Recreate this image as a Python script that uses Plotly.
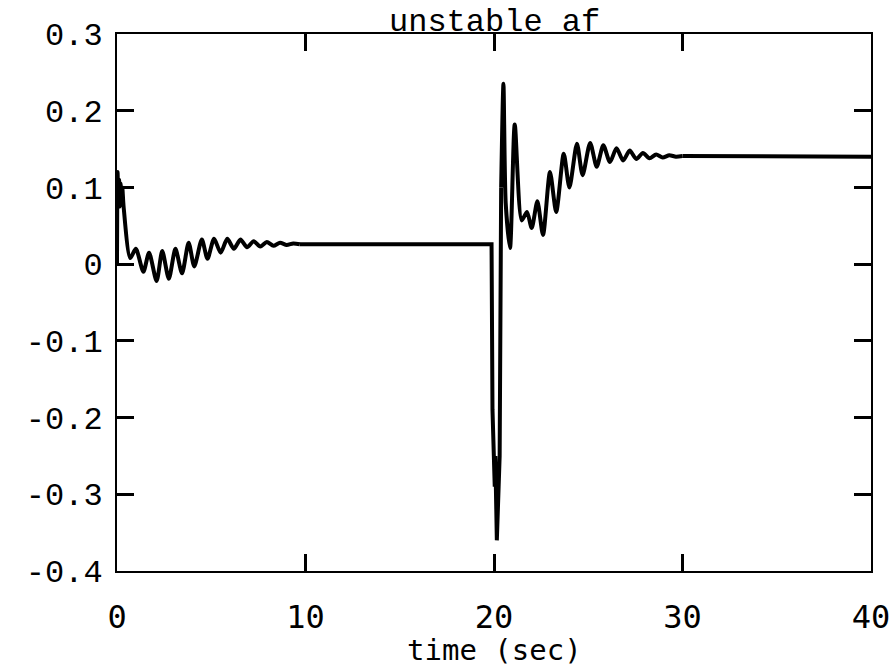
import plotly.graph_objects as go

# time (sec) and response values
t_vals = [0, 0.03, 0.07, 0.11, 0.15, 0.19, 0.23, 0.28, 0.35, 0.7, 1.0, 1.4, 1.7, 2.1, 2.4,
          2.75, 3.1, 3.45, 3.8, 4.1, 4.5, 4.8, 5.15, 5.5, 5.85, 6.2, 6.55, 6.9, 7.25, 7.6,
          7.95, 8.3, 8.65, 9.0, 9.35, 9.7, 19.87,
          19.92, 20.0, 20.04, 20.07, 20.1, 20.15, 20.3, 20.38, 20.5, 20.62, 20.85, 21.1,
          21.47, 21.75, 22.0, 22.3, 22.6, 22.97, 23.3, 23.7, 24.0, 24.4, 24.7, 25.1, 25.45,
          25.8, 26.15, 26.5, 26.85, 27.2, 27.55, 27.9, 28.25, 28.6, 28.95, 29.3, 29.65,
          30.0, 40.0]
y_vals = [0.0, 0.12, 0.08, 0.11, 0.075, 0.105, 0.085, 0.1, 0.075, 0.008, 0.02, -0.01, 0.015,
          -0.022, 0.017, -0.019, 0.02, -0.012, 0.028, -0.003, 0.032, 0.007, 0.033, 0.015,
          0.033, 0.02, 0.032, 0.022, 0.03, 0.023, 0.029, 0.024, 0.028, 0.025, 0.027, 0.026,
          0.026,
          -0.19, -0.25, -0.29, -0.25, -0.29, -0.36, -0.25, 0.1, 0.235, 0.08, 0.021, 0.182,
          0.057, 0.068, 0.047, 0.082, 0.038, 0.12, 0.068, 0.144, 0.1, 0.157, 0.116, 0.158,
          0.127, 0.155, 0.133, 0.151, 0.135, 0.148, 0.137, 0.145, 0.138, 0.143, 0.139,
          0.142, 0.14, 0.141, 0.14]

x_ticks = [0, 10, 20, 30, 40]
x_ticktext = ["0", "10", "20", "30", "40"]
y_ticks = [-0.4, -0.3, -0.2, -0.1, 0, 0.1, 0.2, 0.3]
y_ticktext = ["-0.4", "-0.3", "-0.2", "-0.1", "0", "0.1", "0.2", "0.3"]

# oscillating parts drawn smooth, flat parts and the sudden dip drawn straight
i_flat = t_vals.index(9.7)
i_rise = t_vals.index(20.38)
i_end = t_vals.index(30.0)
pieces = [(0, i_flat, "spline"), (i_flat, i_rise, "linear"),
          (i_rise, i_end, "spline"), (i_end, len(t_vals) - 1, "linear")]

fig = go.Figure()
for a, b, shape in pieces:
    line = dict(color="black", width=4, shape=shape)
    if shape == "spline":
        line["smoothing"] = 0.7
    fig.add_trace(go.Scatter(x=t_vals[a:b + 1], y=y_vals[a:b + 1], mode="lines",
                             line=line, showlegend=False, hoverinfo="skip"))

axis_common = dict(showgrid=False, zeroline=False, showline=True, linecolor="black",
                   linewidth=2, mirror="ticks", ticks="inside", ticklen=17, tickwidth=2.5,
                   tickcolor="black", automargin=False)

fig.update_xaxes(range=[0, 40], tickvals=x_ticks, ticktext=x_ticktext,
                 tickfont=dict(family="DejaVu Sans Mono", size=32, color="black"),
                 ticklabelstandoff=17, **axis_common)
fig.update_yaxes(range=[-0.4, 0.3], tickvals=y_ticks, ticktext=y_ticktext,
                 tickfont=dict(family="Liberation Mono", size=32, color="black"),
                 ticklabelstandoff=6, **axis_common)

fig.add_annotation(text="unstable af", xref="paper", yref="paper", x=0.5, y=1,
                   xanchor="center", yanchor="bottom", yshift=-8, showarrow=False,
                   borderpad=0,
                   font=dict(family="Liberation Mono", size=32, color="black"))
fig.add_annotation(text="time (sec)", xref="paper", yref="paper", x=0.5, y=0,
                   xanchor="center", yanchor="top", yshift=-60, showarrow=False,
                   font=dict(family="DejaVu Sans Mono", size=29, color="black"))

fig.update_layout(width=894, height=666, paper_bgcolor="white", plot_bgcolor="white",
                  margin=dict(l=117, r=23, t=34, b=95))

fig.write_html("out.html")
